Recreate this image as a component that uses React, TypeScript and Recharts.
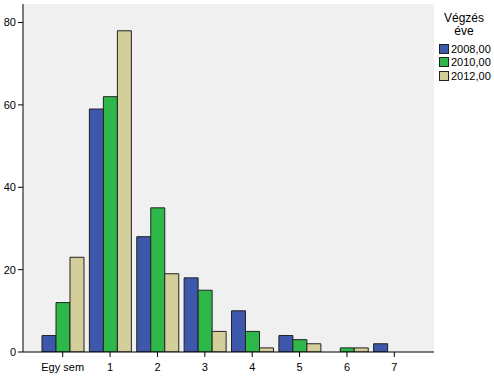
import { Bar, BarChart, CartesianGrid, XAxis, YAxis } from "recharts";

const categories = ["Egy sem", "1", "2", "3", "4", "5", "6", "7"];
const years = ["2008,00", "2010,00", "2012,00"];
const values2008 = [4, 59, 28, 18, 10, 4, 0, 2];
const values2010 = [12, 62, 35, 15, 5, 3, 1, 0];
const values2012 = [23, 78, 19, 5, 1, 2, 1, 0];
const yTicks = [0, 20, 40, 60, 80];

const colors = ["#3d58ab", "#2fb84a", "#d4ce9b"];
const font = "'Liberation Sans', Arial, sans-serif";

const data = categories.map((name, i) => ({
  name,
  y2008: values2008[i],
  y2010: values2010[i],
  y2012: values2012[i],
}));

const keys = ["y2008", "y2010", "y2012"];

export default function App() {
  return (
    <div style={{ position: "absolute", left: 0, top: 0, width: 494, height: 382, background: "#fff", fontFamily: font }}>
      <BarChart
        width={494}
        height={382}
        data={data}
        margin={{ top: 4, right: 60, bottom: 0, left: 0 }}
        barGap={0}
        barCategoryGap={3}
      >
        <CartesianGrid fill="#f0f0f0" horizontal={false} vertical={false} />
        <XAxis
          dataKey="name"
          height={30}
          padding={{ left: 16, right: 16 }}
          tick={{ fontSize: 11, fill: "#000", fontFamily: font }}
          tickSize={5}
          tickMargin={6}
          axisLine={{ stroke: "#000" }}
          tickLine={{ stroke: "#000" }}
          interval={0}
        />
        <XAxis
          xAxisId="top"
          dataKey="name"
          orientation="top"
          height={0}
          tick={false}
          tickLine={false}
          axisLine={{ stroke: "#8a8a8a" }}
        />
        <YAxis
          width={23}
          domain={[0, 84.5]}
          ticks={yTicks}
          tick={{ fontSize: 11, fill: "#000", fontFamily: font }}
          tickSize={5}
          axisLine={{ stroke: "#000" }}
          tickLine={{ stroke: "#000" }}
          allowDataOverflow
        />
        <YAxis
          yAxisId="right"
          orientation="right"
          width={0}
          tick={false}
          tickLine={false}
          axisLine={{ stroke: "#8a8a8a" }}
        />
        {keys.map((k, i) => (
          <Bar key={k} dataKey={k} fill={colors[i]} stroke="#222" strokeWidth={1} isAnimationActive={false} />
        ))}
      </BarChart>
      <div style={{ position: "absolute", left: 434, top: 12, width: 60, textAlign: "center", fontSize: 12, lineHeight: "13px", color: "#000" }}>
        Végzés
        <br />
        éve
      </div>
      <div style={{ position: "absolute", left: 439, top: 42 }}>
        {years.map((y, i) => (
          <div key={y} style={{ display: "flex", alignItems: "center", height: 13.5, fontSize: 11, color: "#000" }}>
            <span style={{ display: "inline-block", width: 8, height: 8, background: colors[i], border: "1px solid #222", marginRight: 2 }} />
            {y}
          </div>
        ))}
      </div>
    </div>
  );
}
